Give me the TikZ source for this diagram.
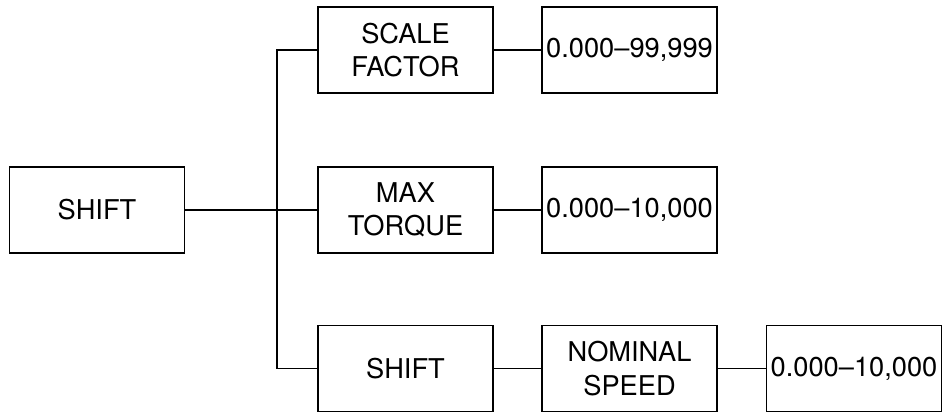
\documentclass[tikz,border=0pt]{standalone}
\usepackage{fontspec}
\setmainfont{TeX Gyre Heros}
\usepackage{tikz}
\usetikzlibrary{positioning,calc}

\begin{document}
\begin{tikzpicture}[
  box/.style={draw,line width=0.7pt,minimum width=3.5cm,minimum height=1.72cm,align=center,inner sep=1pt,font=\fontsize{15.5}{19}\selectfont},
  ln/.style={line width=0.7pt}]
  \useasboundingbox (0,0) rectangle (18.84,-8.24);
  \node[box] (shift0) at (1.94,-4.2) {SHIFT};
  \node[box] (scale) at (8.11,-1.0) {SCALE\\FACTOR};
  \node[box] (torque) at (8.11,-4.2) {MAX\\TORQUE};
  \node[box] (shift1) at (8.11,-7.37) {SHIFT};
  \node[box] (scaleval) at (12.59,-1.0) {0.000--99,999};
  \node[box] (torqueval) at (12.59,-4.2) {0.000--10,000};
  \node[box] (speed) at (12.59,-7.37) {NOMINAL\\SPEED};
  \node[box] (speedval) at (17.08,-7.37) {0.000--10,000};
  % tree trunk
  \coordinate (j) at (5.54,-4.2);
  \draw[ln] (shift0) -- (torque);
  \draw[ln] (scale.west) -| (j) |- (shift1.west);
  \draw[ln] (scale) -- (scaleval);
  \draw[ln] (torque) -- (torqueval);
  \draw[ln] (shift1) -- (speed);
  \draw[ln] (speed) -- (speedval);
\end{tikzpicture}
\end{document}
